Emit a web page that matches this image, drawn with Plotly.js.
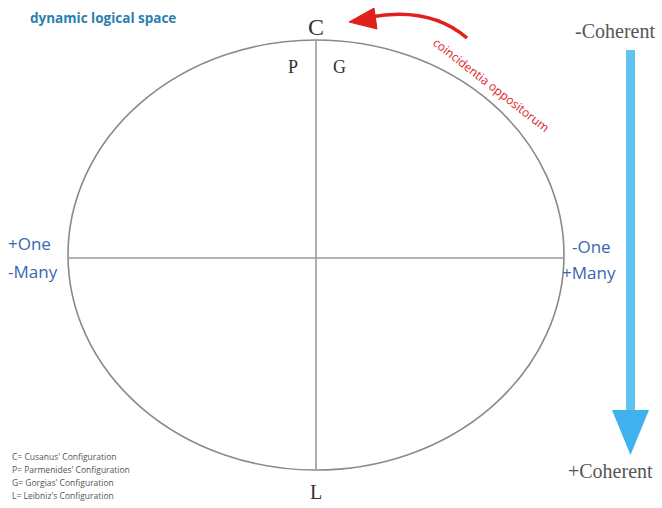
<!DOCTYPE html>
<html>
<head>
<meta charset="utf-8">
<script src="https://cdn.plot.ly/plotly-3.0.1.min.js"></script>
<style>html,body{margin:0;padding:0;background:#fff;}#chart{width:662px;height:508px;}</style>
</head>
<body>
<div id="chart"></div>
<script>
// Diagram content
const poleLabels = ["C", "P", "G", "L"];
const poleX = [316, 293, 339, 316];
const poleY = [27, 67, 67, 492];
const poleSize = [24, 18, 18, 20];

const leftLabels = ["+One", "-Many"];
const rightLabels = ["-One", "+Many"];
const coherentLabels = ["-Coherent", "+Coherent"];
const legendLines = [
  "C= Cusanus' Configuration",
  "P= Parmenides' Configuration",
  "G= Gorgias' Configuration",
  "L= Leibniz's Configuration"
];
const legendY = [456, 469, 482, 495];
const titleText = "dynamic logical space";
const arcText = "coincidentia oppositorum";

// Ellipse geometry (diagram units = pixels)
const ellipseX = [68, 564];
const ellipseY = [40, 470];
const centerX = 316, centerY = 258;

const shapes = [
  {type: "circle", xref: "x", yref: "y", x0: ellipseX[0], x1: ellipseX[1], y0: ellipseY[0], y1: ellipseY[1],
   line: {color: "#8a8a8a", width: 1.6}},
  {type: "line", x0: centerX, x1: centerX, y0: ellipseY[0], y1: ellipseY[1], line: {color: "#9a9a9a", width: 1.6}},
  {type: "line", x0: ellipseX[0], x1: ellipseX[1], y0: centerY, y1: centerY, line: {color: "#9a9a9a", width: 1.6}},
  // red curved arrow
  {type: "path", path: "M 467 38 Q 430 6 370 17", line: {color: "#e0201c", width: 3.5}},
  {type: "path", path: "M 349 22 L 374 8 L 377 29 Z", fillcolor: "#e0201c", line: {color: "#e0201c", width: 1}},
  // blue arrow
  {type: "rect", x0: 626, x1: 635, y0: 50, y1: 412, fillcolor: "#62c2f1", line: {width: 0}},
  {type: "path", path: "M 612 410 L 649 410 L 630.5 455 Z", fillcolor: "#3fb2ee", line: {width: 0}}
];

const ann = [];
const serif = "Liberation Serif, DejaVu Serif, serif";
const sans = "Open Sans, Liberation Sans, sans-serif";
for (let i = 0; i < poleLabels.length; i++) {
  ann.push({x: poleX[i], y: poleY[i], text: poleLabels[i], showarrow: false,
    font: {family: serif, size: poleSize[i], color: "#333"}});
}
const blue = "#3a66b4";
ann.push({x: 6, y: 243, text: leftLabels[0], xanchor: "left", showarrow: false, font: {family: sans, size: 17, color: blue}});
ann.push({x: 6, y: 271, text: leftLabels[1], xanchor: "left", showarrow: false, font: {family: sans, size: 17, color: blue}});
ann.push({x: 570, y: 246, text: rightLabels[0], xanchor: "left", showarrow: false, font: {family: sans, size: 17, color: blue}});
ann.push({x: 560, y: 272, text: rightLabels[1], xanchor: "left", showarrow: false, font: {family: sans, size: 17, color: blue}});
ann.push({x: 573, y: 31, text: coherentLabels[0], xanchor: "left", showarrow: false, font: {family: serif, size: 20, color: "#555"}});
ann.push({x: 566, y: 471, text: coherentLabels[1], xanchor: "left", showarrow: false, font: {family: serif, size: 20, color: "#555"}});
ann.push({x: 28, y: 18, text: "<b>" + titleText + "</b>", xanchor: "left", showarrow: false, font: {family: sans, size: 13.5, color: "#2a7fae"}});
ann.push({x: 491, y: 84, text: arcText, textangle: 38, showarrow: false, font: {family: sans, size: 12, color: "#e0201c"}});
for (let i = 0; i < legendLines.length; i++) {
  ann.push({x: 10, y: legendY[i], text: legendLines[i], xanchor: "left", showarrow: false, font: {family: sans, size: 8.5, color: "#555"}});
}

const layout = {
  width: 662, height: 508,
  margin: {l: 0, r: 0, t: 0, b: 0},
  paper_bgcolor: "#fff", plot_bgcolor: "#fff",
  xaxis: {range: [0, 662], visible: false, fixedrange: true},
  yaxis: {range: [508, 0], visible: false, fixedrange: true},
  showlegend: false,
  shapes: shapes,
  annotations: ann
};
Plotly.newPlot("chart", [{x: [0], y: [0], mode: "markers", marker: {opacity: 0}, hoverinfo: "skip"}], layout, {staticPlot: true});
</script>
</body>
</html>
